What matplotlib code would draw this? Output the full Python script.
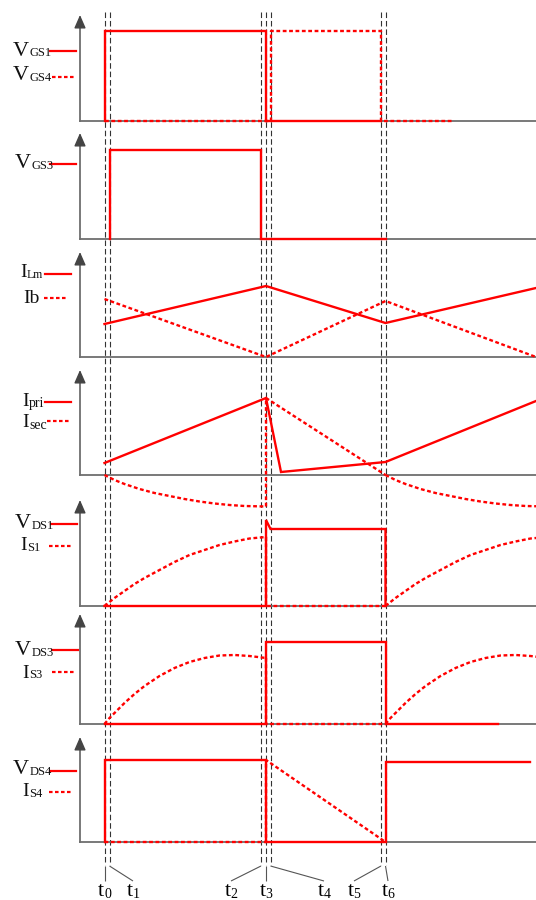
import matplotlib
matplotlib.use('Agg')
import matplotlib.pyplot as plt

W, H = 536, 900
fig = plt.figure(figsize=(W / 100, H / 100), dpi=100)

RED = '#ff0000'
AXC = '#6e6e6e'
SERIF = 'Liberation Serif'
DOT = (0, (1.6, 1.1))

# ---------------- data (time in horizontal-pixel units, t0 = 0) ----------------
t_names = ['0', '1', '2', '3', '4', '5', '6']
t_marks = [0, 5, 156.5, 161.5, 166, 276.5, 281]
t0, t1, t2, t3, t4, t5, t6 = t_marks
T_ORIGIN, T_END = -24.5, 431.5

# panel 1: VGS1 (solid), VGS4 (dotted)
vgs1_t = [t0, t0, t3, t3, t5]
vgs1_v = [0, 90, 90, 0, 0]
vgs4_t = [t0, t4, t4, t5, t5, 347.5]
vgs4_v = [0, 0, 90, 90, 0, 0]
# panel 2: VGS3
vgs3_t = [t1, t1, t2, t2, t6]
vgs3_v = [0, 89, 89, 0, 0]
# panel 3: ILm, Ib
ilm_t = [t0, t3, t6, T_END]
ilm_v = [33, 71, 34, 69]
ib_t = [t0, t3, t6, T_END]
ib_v = [58, 0, 56, 0]
# panel 4: Ipri, Isec
ipri_t = [t0, t3, 176.5, t6, T_END]
ipri_v = [12, 77, 3, 13, 74]
isec_off = [0, 10, 20, 35, 50, 65, 80, 95, 110, 125, 140, 161.5]
isec_neg = [0, -5, -9, -14, -18, -21, -24, -26.5, -28.5, -30, -31, -31.5]
isec_ramp_t = [t3, t3, t6]
isec_ramp_v = [-31.5, 77, 0]
# panel 5: VDS1, IS1
vds1_t = [t0, t3, t3, t4, t6, t6]
vds1_v = [0, 0, 86, 77, 77, 0]
is1_off = [0, 5, 10, 20, 30, 40, 55, 70, 85, 100, 115, 130, 145, 161.5]
is1_v = [0, 4, 8, 15, 22, 28, 36, 44, 51, 56, 61, 64.5, 67.5, 69]
# panel 6: VDS3, IS3
vds3_t = [t0, t3, t3, t6, t6, 393.5]
vds3_v = [0, 0, 82, 82, 0, 0]
is3_off = [0, 5, 10, 20, 30, 40, 55, 70, 85, 100, 115, 130, 145, 161.5]
is3_v = [0, 6, 11, 21, 30, 38, 48, 56, 62, 66, 68.5, 69, 68, 66]
# panel 7: VDS4, IS4
vds4_t = [t0, t0, t3, t3, t6, t6, 425.5]
vds4_v = [0, 82, 82, 0, 0, 80, 80]
is4_t = [t0, t3, t3, t6]
is4_v = [0, 0, 82, 0]

# ---------------- layout ----------------
X0_PX = 104.5  # pixel position of t0
panel_base = [121, 238.5, 357, 475, 606, 724, 842]
panel_top = [15, 133, 252, 370, 500, 614, 737]
NEG = 40


def px2t(px):
    return px - X0_PX


# overlay axes (pixel y, time x) for dashed markers & labels
ov = fig.add_axes([0, 0, 1, 1])
ov.set_xlim(px2t(0), px2t(W))
ov.set_ylim(H, 0)
ov.axis('off')
ov.vlines(t_marks, 12, 865, colors='#333333', linewidth=0.8,
          linestyles=(0, (5, 2.6)), zorder=1)

label_x = [104.5, 133, 231, 266, 324, 354, 388]
label_from_y, label_to_y = 866, 881
for tm, lx in zip(t_marks, label_x):
    ov.plot([tm, px2t(lx)], [label_from_y, label_to_y], color='#555555',
            lw=0.8, solid_capstyle='butt')

renderer = fig.canvas.get_renderer()


def symbol(x_left, y_base, main, sub='', main_size=16, sub_size=9, sub_dy=1.0):
    t = fig.text(x_left / W, 1 - y_base / H, main, fontsize=main_size,
                 family=SERIF, va='baseline', ha='left', color='#111111')
    if sub:
        bb = t.get_window_extent(renderer)
        fig.text((bb.x1 + 0.3) / W, 1 - (y_base + sub_dy) / H, sub,
                 fontsize=sub_size, family=SERIF, va='baseline', ha='left',
                 color='#111111')


# time labels t0..t6
for name, lx in zip(t_names, label_x):
    t = fig.text(0, 0, 't', fontsize=16, family=SERIF, va='baseline')
    tb = t.get_window_extent(renderer)
    s = fig.text(0, 0, name, fontsize=10, family=SERIF, va='baseline')
    sb = s.get_window_extent(renderer)
    total = tb.width + sb.width
    x_left = lx - total / 2
    t.set_position((x_left / W, 1 - 895.5 / H))
    s.set_position(((x_left + tb.width) / W, 1 - 898.5 / H))

# legend entries: (main, sub, main size, sub size, sub dy, text left, baseline, style, line y, x0, x1)
legend = [
    ('V', 'GS1', 16, 9, 0.5, 13, 56, '-', 51, 50, 76),
    ('V', 'GS4', 16, 9, 0.5, 13, 80.5, DOT, 77, 52, 76),
    ('V', 'GS3', 16, 9, 0.5, 15, 168.5, '-', 164.3, 50, 76),
    ('I', 'Lm', 14, 8.5, 0.5, 20, 277, '-', 274, 45, 70.7),
    ('Ib', '', 14, 9, 0, 23, 303, DOT, 297.7, 44, 68),
    ('I', 'pri', 14, 10, 1.0, 22, 405.5, '-', 401.7, 45, 70.7),
    ('I', 'sec', 14, 10, 2.0, 22, 427, DOT, 420.7, 47, 70.7),
    ('V', 'DS1', 16, 9, 0.5, 15, 528.5, '-', 524, 51, 76.7),
    ('I', 'S1', 14, 9, 0.5, 20, 550.5, DOT, 546, 49, 73),
    ('V', 'DS3', 16, 9, 0.5, 15, 655, '-', 650, 52, 78),
    ('I', 'S3', 14, 9, 0.5, 22, 677.5, DOT, 671.7, 52, 76),
    ('V', 'DS4', 16, 9, 0.5, 13, 774.5, '-', 770.7, 50, 76),
    ('I', 'S4', 14, 9, 0.5, 22, 796.5, DOT, 791.7, 49, 73),
]
for main, sub, ms, ss, sdy, xl, yb, ls, ly, lx0, lx1 in legend:
    symbol(xl, yb, main, sub, ms, ss, sdy)
    ov.plot([px2t(lx0), px2t(lx1)], [ly, ly], color=RED, lw=1.6, linestyle=ls)

# ---------------- panels ----------------
axes = []
for base, top in zip(panel_base, panel_top):
    h = base - top
    bottom_px = base + NEG
    ax = fig.add_axes([(X0_PX + T_ORIGIN) / W, 1 - bottom_px / H,
                       (W - (X0_PX + T_ORIGIN)) / W, (bottom_px - top) / H])
    ax.set_xlim(T_ORIGIN, T_END)
    ax.set_ylim(-NEG, h)
    ax.axis('off')
    ax.patch.set_alpha(0)
    ax.plot([T_ORIGIN, T_END + 5], [0, 0], color=AXC, lw=1.3, clip_on=False,
            zorder=1)
    ax.plot([T_ORIGIN, T_ORIGIN], [0, h - 8], color=AXC, lw=1.3,
            clip_on=False, zorder=1)
    ax.annotate('', xy=(T_ORIGIN, h), xytext=(T_ORIGIN, h - 11),
                arrowprops=dict(arrowstyle='-|>,head_length=0.8,head_width=0.35',
                                color='#444444', lw=1.0, mutation_scale=10,
                                shrinkA=0, shrinkB=0),
                annotation_clip=False)
    axes.append(ax)

SOL = dict(color=RED, lw=1.7, solid_joinstyle='miter', zorder=3)
DOTK = dict(color=RED, lw=1.7, linestyle=DOT, zorder=3)

a = axes[0]
a.plot(vgs4_t, vgs4_v, **DOTK)
a.plot(vgs1_t, vgs1_v, **SOL)

a = axes[1]
a.plot(vgs3_t, vgs3_v, **SOL)

a = axes[2]
a.plot(ilm_t, ilm_v, **SOL)
a.plot(ib_t, ib_v, **DOTK)

a = axes[3]
a.plot(ipri_t, ipri_v, **SOL)
a.plot([t0 + o for o in isec_off], isec_neg, **DOTK)
a.plot(isec_ramp_t, isec_ramp_v, **DOTK)
a.plot([t6 + o for o in isec_off], isec_neg, **DOTK)

a = axes[4]
a.plot([t0 + o for o in is1_off], is1_v, **DOTK)
a.plot([t3, t3, t6], [is1_v[-1], 0, 0], **DOTK)
a.plot([t6 + o for o in is1_off], is1_v, **DOTK)
a.plot(vds1_t, vds1_v, **SOL)

a = axes[5]
a.plot([t0 + o for o in is3_off], is3_v, **DOTK)
a.plot([t3, t3, t6], [is3_v[-1], 0, 0], **DOTK)
a.plot([t6 + o for o in is3_off], is3_v, **DOTK)
a.plot(vds3_t, vds3_v, **SOL)

a = axes[6]
a.plot(is4_t, is4_v, **DOTK)
a.plot(vds4_t, vds4_v, **SOL)

fig.savefig('out.png', dpi=100)
